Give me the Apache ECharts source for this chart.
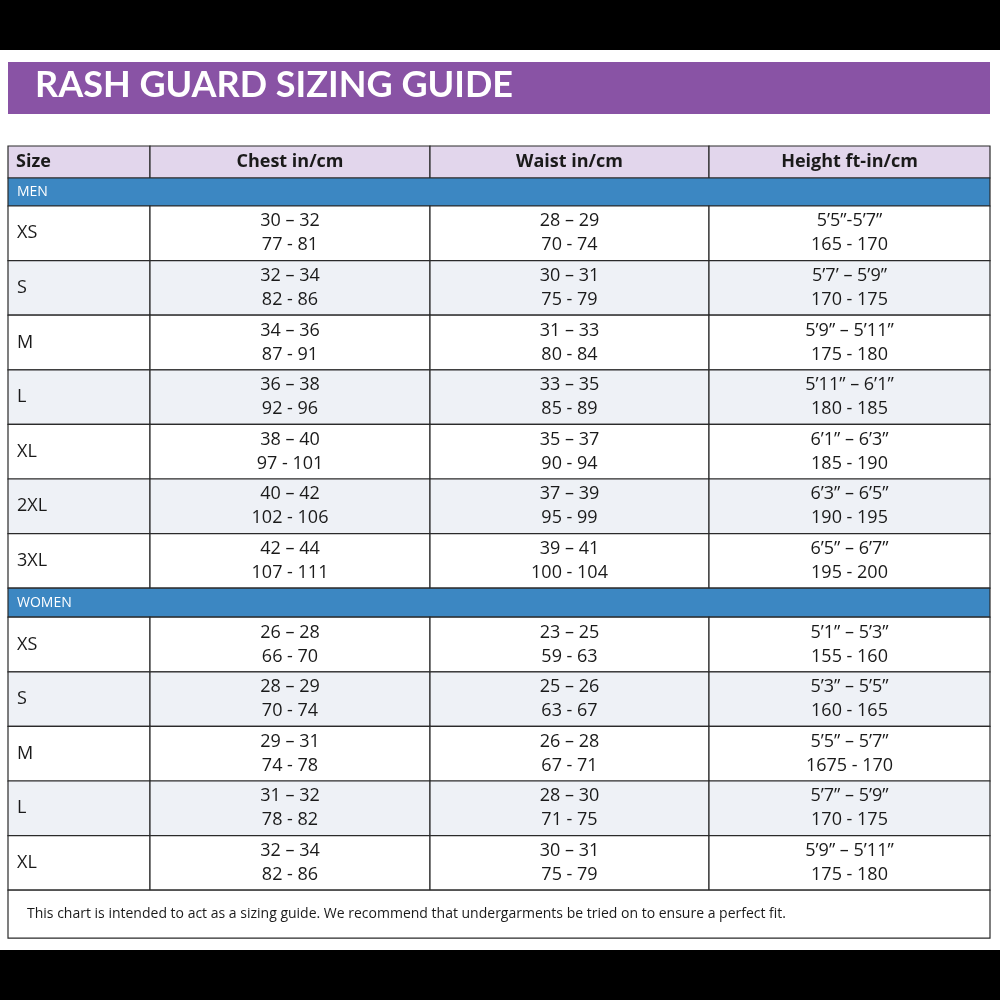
<!DOCTYPE html>
<html><head><meta charset="utf-8">
<script src="https://cdn.jsdelivr.net/npm/echarts@6/dist/echarts.min.js"></script>
<style>html,body{margin:0;padding:0;background:#fff}#c{width:1000px;height:1000px}</style>
</head><body><div id="c"></div>
<script>
const title = 'RASH GUARD SIZING GUIDE';
const headers = ['Size', 'Chest in/cm', 'Waist in/cm', 'Height ft-in/cm'];
const menSizes = ['XS','S','M','L','XL','2XL','3XL'];
const menChest = ['30 – 32\n77 - 81','32 – 34\n82 - 86','34 – 36\n87 - 91','36 – 38\n92 - 96','38 – 40\n97 - 101','40 – 42\n102 - 106','42 – 44\n107 - 111'];
const menWaist = ['28 – 29\n70 - 74','30 – 31\n75 - 79','31 – 33\n80 - 84','33 – 35\n85 - 89','35 – 37\n90 - 94','37 – 39\n95 - 99','39 – 41\n100 - 104'];
const menHeight = ['5’5”-5’7”\n165 - 170','5’7’ – 5’9”\n170 - 175','5’9” – 5’11”\n175 - 180','5’11” – 6’1”\n180 - 185','6’1” – 6’3”\n185 - 190','6’3” – 6’5”\n190 - 195','6’5” – 6’7”\n195 - 200'];
const womenSizes = ['XS','S','M','L','XL'];
const womenChest = ['26 – 28\n66 - 70','28 – 29\n70 - 74','29 – 31\n74 - 78','31 – 32\n78 - 82','32 – 34\n82 - 86'];
const womenWaist = ['23 – 25\n59 - 63','25 – 26\n63 - 67','26 – 28\n67 - 71','28 – 30\n71 - 75','30 – 31\n75 - 79'];
const womenHeight = ['5’1” – 5’3”\n155 - 160','5’3” – 5’5”\n160 - 165','5’5” – 5’7”\n1675 - 170','5’7” – 5’9”\n170 - 175','5’9” – 5’11”\n175 - 180'];
const footnote = 'This chart is intended to act as a sizing guide. We recommend that undergarments be tried on to ensure a perfect fit.';

// layout (units of the hidden value axes)
const colEdges = [0,142,422,701,982];
const HDR=32, SEC=28, ROW=54.6, FOOT=48;
const rows = [];
rows.push({kind:'header', h:HDR, cells:headers});
rows.push({kind:'section', h:SEC, cells:['MEN']});
menSizes.forEach((s,i)=>rows.push({kind:'data',h:ROW,cells:[s,menChest[i],menWaist[i],menHeight[i]],shade:i%2===1}));
rows.push({kind:'section', h:SEC+1, cells:['WOMEN']});
womenSizes.forEach((s,i)=>rows.push({kind:'data',h:ROW,cells:[s,womenChest[i],womenWaist[i],womenHeight[i]],shade:i%2===1}));
rows.push({kind:'foot', h:FOOT, cells:[footnote]});
let acc=0; rows.forEach(r=>{r.y0=acc; acc+=r.h; r.y1=acc;});
const total=acc;

const items=[];
rows.forEach((r,ri)=>{
  if(r.kind==='section'||r.kind==='foot') items.push([ri,-1]);
  else r.cells.forEach((c,ci)=>items.push([ri,ci]));
});
const FF='"Open Sans", Lato, sans-serif';
const chart=echarts.init(document.getElementById('c'));
chart.setOption({
  backgroundColor:'#fff',
  graphic:[
    {type:'rect',shape:{x:0,y:0,width:1000,height:50},style:{fill:'#000'}},
    {type:'rect',shape:{x:0,y:950,width:1000,height:50},style:{fill:'#000'}},
    {type:'rect',shape:{x:8,y:62,width:982,height:52},style:{fill:'#8953a5'}},
    {type:'text',left:35,top:67,style:{text:title,fill:'#fff',font:'bold 36px Lato, sans-serif'}}
  ],
  grid:{left:8,top:146,width:982,height:total},
  xAxis:{type:'value',min:0,max:982,show:false},
  yAxis:{type:'value',min:0,max:total,inverse:true,show:false},
  series:[{
    type:'custom',coordinateSystem:'cartesian2d',
    data:items,
    renderItem:(params,api)=>{
      const ri=api.value(0), ci=api.value(1), r=rows[ri];
      const xa=ci<0?colEdges[0]:colEdges[ci], xb=ci<0?colEdges[4]:colEdges[ci+1];
      const p0=api.coord([xa,r.y0]), p1=api.coord([xb,r.y1]);
      const w=p1[0]-p0[0], h=p1[1]-p0[1];
      let fill='#fff', tf='#1a1a1a', font='18px '+FF, text=r.cells[ci<0?0:ci], align='center', tx=p0[0]+w/2;
      if(r.kind==='header'){fill='#e2d6ec'; font='bold 18px '+FF; if(ci===0){align='left';tx=p0[0]+8;}}
      else if(r.kind==='section'){fill='#3c87c2'; tf='#fff'; font='14px '+FF; align='left'; tx=p0[0]+9;}
      else if(r.kind==='foot'){font='14px '+FF; align='left'; tx=p0[0]+19;}
      else { if(r.shade) fill='#eef1f6'; if(ci===0){align='left';tx=p0[0]+9;} }
      return {type:'group',children:[
        {type:'rect',shape:{x:p0[0],y:p0[1],width:w,height:h},style:{fill:fill,stroke:'#2a2a2a',lineWidth:1.2}},
        {type:'text',style:{x:tx,y:p0[1]+h/2,text:text,fill:tf,font:font,align:align,verticalAlign:'middle',lineHeight:24}}
      ]};
    }
  }]
});
</script></body></html>
